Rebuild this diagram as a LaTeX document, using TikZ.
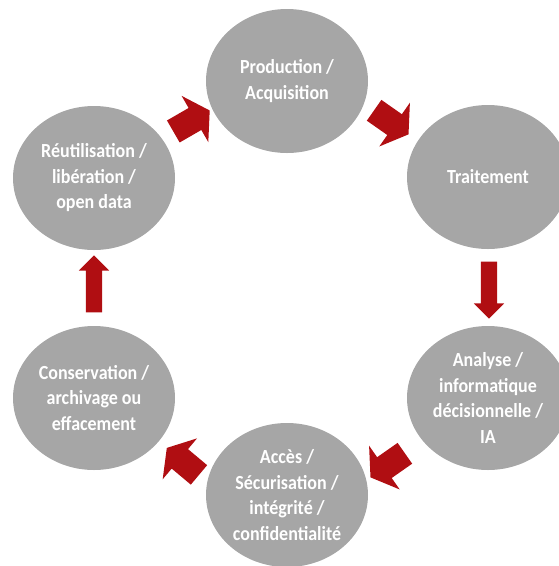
\documentclass[tikz,border=0pt]{standalone}
\usepackage{fontspec}
\newfontfamily\stagefont{Carlito}[FakeStretch=0.9]
\usetikzlibrary{shapes.geometric,shapes.arrows,calc}
\definecolor{stagegray}{RGB}{166,166,166}
\definecolor{arrowred}{RGB}{176,14,18}
\tikzset{
  stage/.style    = {shape=ellipse, fill=stagegray, text=white,
          minimum width=162pt, minimum height=144pt, inner sep=0pt,
          align=center, font=\stagefont\bfseries\fontsize{20}{25.5}\selectfont},
  flow/.style     = {shape=single arrow, fill=arrowred, inner sep=8pt,
          single arrow head extend=7pt, single arrow head indent=0pt,
          minimum height=57pt},
  flowdiag/.style = {flow, inner sep=12.5pt, single arrow head extend=14pt,
          minimum height=42pt, single arrow tip angle=115}
}
\begin{document}
\begin{tikzpicture}[x=1pt, y=-1pt]
  \useasboundingbox (0,0) rectangle (558,566);
  \node [stage] (prod)  at (287,81)  {Production /\\Acquisition};
  \node [stage] (trait) at (488,177) {Traitement};
  \node [stage] (ana)   at (488,398) {Analyse /\\informatique\\décisionnelle /\\IA};
  \node [stage] (acc)   at (287,495) {Accès /\\Sécurisation /\\intégrité /\\confidentialité};
  \node [stage] (cons)  at (94,398)  {Conservation /\\archivage ou\\effacement};
  \node [stage] (reut)  at (94,178)  {Réutilisation /\\libération /\\open data};
  % arrows between the stages
  \node [flowdiag, rotate=-35] (a1) at ($(prod)!.5!(trait)+(0.5,-9)$) {};
  \node [flow, rotate=-90]     (a2) at ($(trait)!.5!(ana)+(1,-1.5)$) {};
  \node [flowdiag, rotate=215] (a3) at ($(ana)!.5!(acc)+(3.5,16.5)$) {};
  \node [flowdiag, rotate=140] (a4) at ($(acc)!.5!(cons)+(-4.5,17.5)$) {};
  \node [flow, rotate=90]      (a5) at ($(cons)!.5!(reut)$) {};
  \node [flowdiag, rotate=30]  (a6) at ($(reut)!.5!(prod)+(-2.5,-6.5)$) {};
\end{tikzpicture}
\end{document}
